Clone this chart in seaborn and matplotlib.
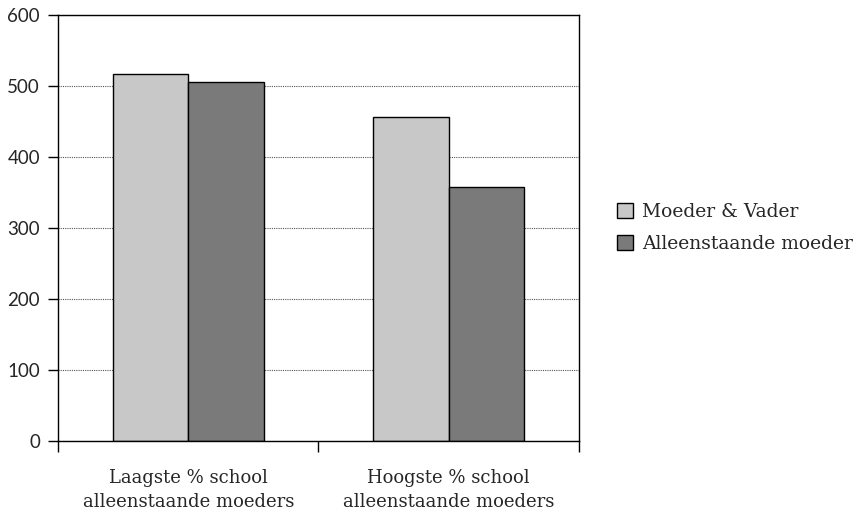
import matplotlib
matplotlib.use("Agg")
import matplotlib.pyplot as plt
import pandas as pd
import seaborn as sns

# values
categories = ["Laagste % school\nalleenstaande moeders", "Hoogste % school\nalleenstaande moeders"]
series = ["Moeder & Vader", "Alleenstaande moeder"]
moeder_vader = [517, 456]
alleenstaand = [506, 358]
yticks = [0, 100, 200, 300, 400, 500, 600]

df = pd.DataFrame({
    "categorie": categories * 2,
    "gezin": [series[0]] * 2 + [series[1]] * 2,
    "waarde": moeder_vader + alleenstaand,
})

sns.set_style("white")
fig = plt.figure(figsize=(8.55, 5.15), dpi=100)
ax = fig.add_axes([0.068, 0.144, 0.609, 0.827])

sns.barplot(data=df, x="categorie", y="waarde", hue="gezin",
            palette=["#c8c8c8", "#7a7a7a"], width=0.58, gap=0,
            edgecolor="black", linewidth=1.0, saturation=1, ax=ax)

ax.set_ylim(0, 600)
ax.set_xlim(-0.5, 1.5)
ax.set_yticks(yticks)
ax.set_yticklabels([str(t) for t in yticks], family="Lato", fontsize=13.5)
ax.grid(axis="y", linestyle=(0, (1, 1)), color="#555555", linewidth=0.8)
ax.set_axisbelow(True)

# category labels centred, tick marks between categories
ax.set_xticks([0, 1])
ax.set_xticklabels(categories, family="DejaVu Serif", fontsize=13, linespacing=1.45)
ax.tick_params(axis="x", which="major", bottom=False, length=0, pad=20)
ax.set_xticks([-0.5, 0.5, 1.5], minor=True)
ax.tick_params(axis="x", which="minor", bottom=True, length=8, width=1,
               direction="out", color="black")
ax.tick_params(axis="y", left=True, length=7, width=1, direction="out",
               color="black", pad=6)

for s in ax.spines.values():
    s.set_visible(True)
    s.set_color("black")
    s.set_linewidth(1.0)

ax.set_xlabel("")
ax.set_ylabel("")

leg = ax.legend(loc="center left", bbox_to_anchor=(1.04, 0.5), frameon=False,
                prop={"family": "DejaVu Serif", "size": 13.5},
                handlelength=0.9, handleheight=0.9, handletextpad=0.45, labelspacing=0.75)
for h in leg.legend_handles:
    h.set_edgecolor("black")

fig.savefig("out.png", dpi=100)
